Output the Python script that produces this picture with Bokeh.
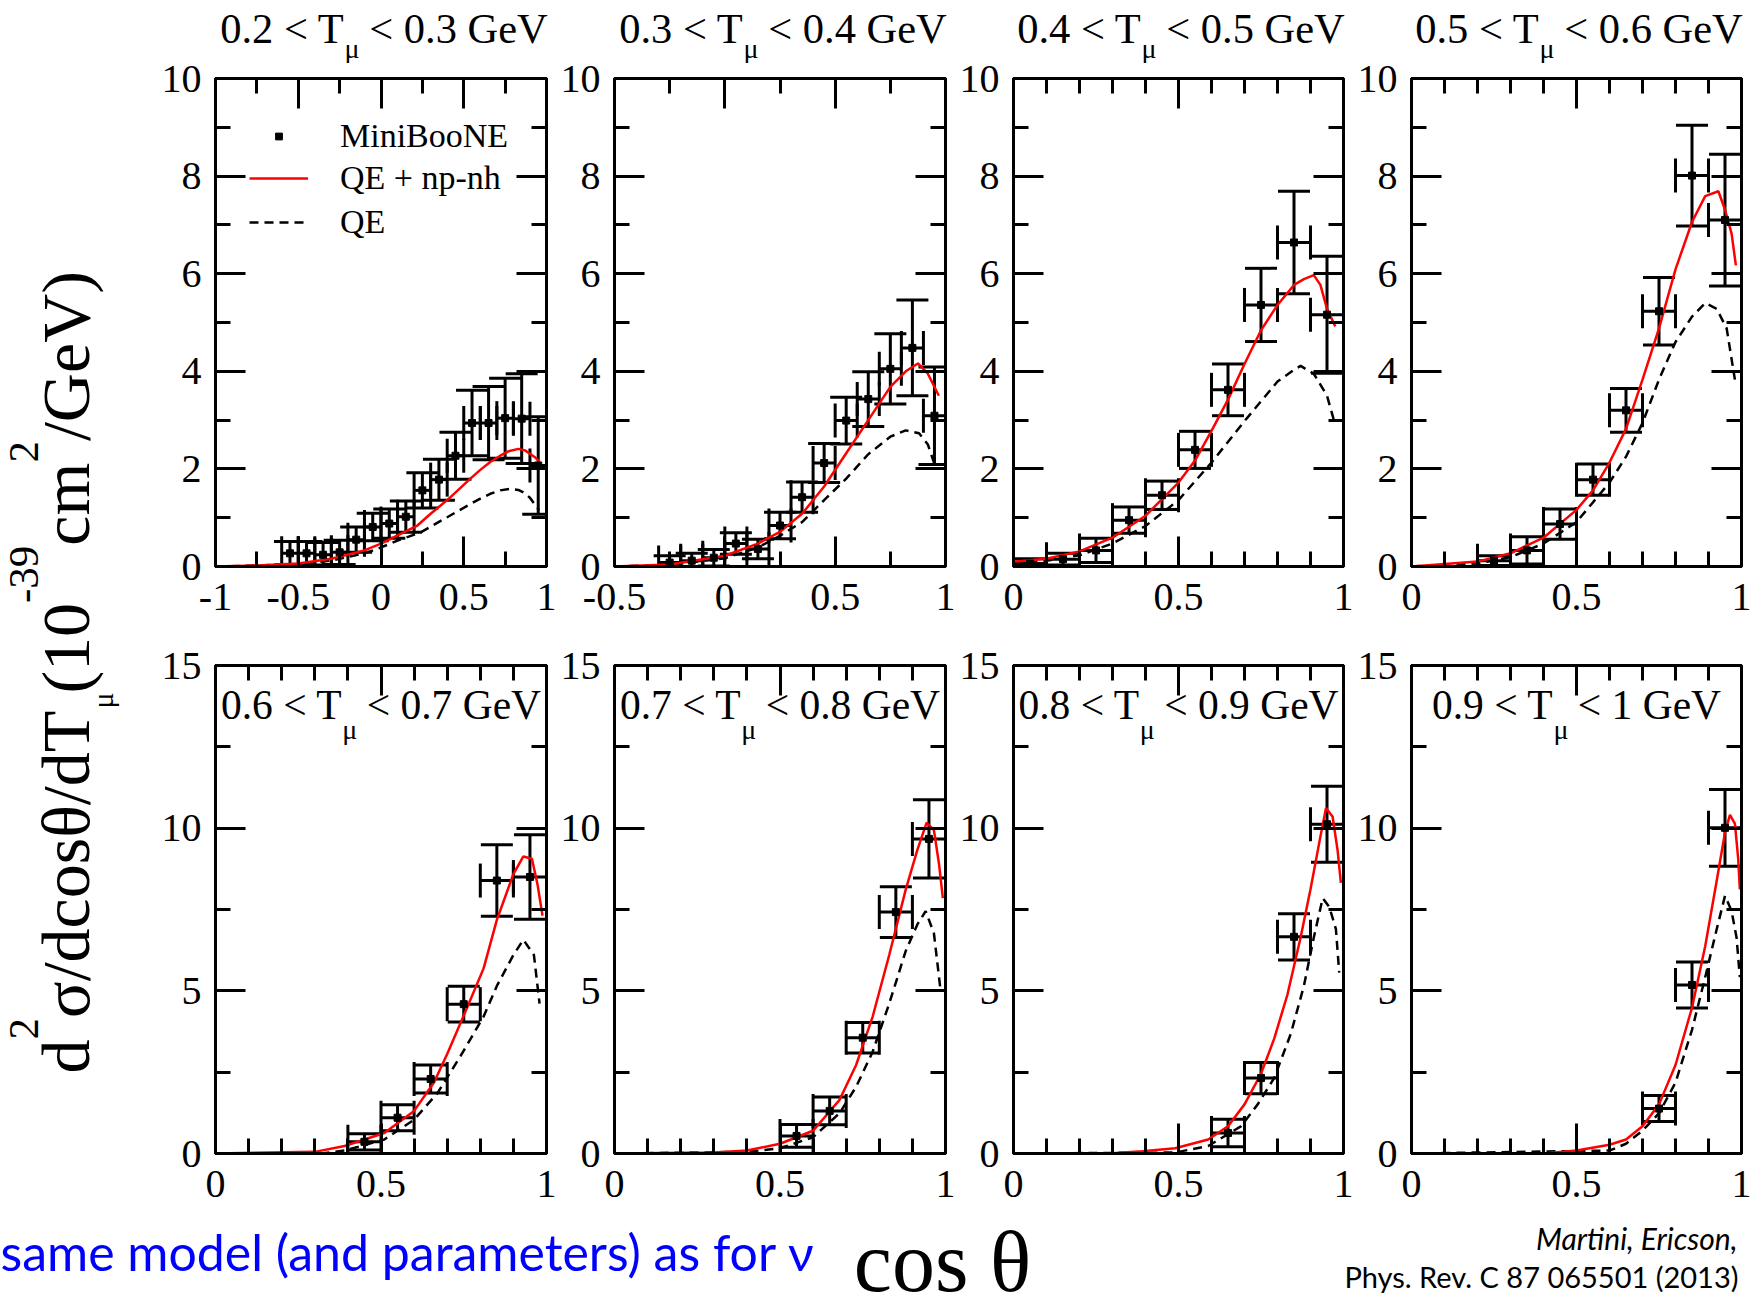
import math
from bokeh.plotting import figure
from bokeh.models import Range1d, FixedTicker, LinearAxis, Label, Legend, LegendItem
from bokeh.layouts import row, column
from bokeh.embed import file_html
from bokeh.resources import INLINE

# ---------------------------------------------------------------- data
# Muon kinetic energy bins (GeV), one panel per bin
t_lo = ["0.2", "0.3", "0.4", "0.5", "0.6", "0.7", "0.8", "0.9"]
t_hi = ["0.3", "0.4", "0.5", "0.6", "0.7", "0.8", "0.9", "1"]
bin_half = 0.05  # half width of the cos(theta) bins

# MiniBooNE: bin centres, d2sigma/dcos/dT (1e-39 cm2/GeV), errors
cos_1 = [-0.55, -0.45, -0.35, -0.25, -0.15, -0.05, 0.05, 0.15, 0.25, 0.35, 0.45, 0.55, 0.65, 0.75, 0.85, 0.95]
val_1 = [0.27, 0.27, 0.24, 0.29, 0.55, 0.81, 0.88, 1.02, 1.56, 1.78, 2.27, 2.94, 2.94, 3.04, 3.03, 2.07]
err_1 = [0.24, 0.24, 0.25, 0.25, 0.26, 0.28, 0.30, 0.32, 0.36, 0.42, 0.48, 0.67, 0.75, 0.82, 0.92, 1.00]

cos_2 = [-0.25, -0.15, -0.05, 0.05, 0.15, 0.25, 0.35, 0.45, 0.55, 0.65, 0.75, 0.85, 0.95]
val_2 = [0.08, 0.12, 0.18, 0.47, 0.36, 0.84, 1.42, 2.12, 2.99, 3.43, 4.05, 4.48, 3.09]
err_2 = [0.14, 0.15, 0.17, 0.22, 0.20, 0.27, 0.31, 0.40, 0.48, 0.56, 0.72, 0.98, 1.00]

cos_3 = [0.05, 0.15, 0.25, 0.35, 0.45, 0.55, 0.65, 0.75, 0.85, 0.95]
val_3 = [0.06, 0.15, 0.33, 0.95, 1.46, 2.39, 3.62, 5.36, 6.64, 5.16]
err_3 = [0.10, 0.12, 0.25, 0.27, 0.29, 0.38, 0.53, 0.75, 1.05, 1.20]

cos_4 = [0.25, 0.35, 0.45, 0.55, 0.65, 0.75, 0.85, 0.95]
val_4 = [0.12, 0.33, 0.87, 1.78, 3.20, 5.23, 8.01, 7.10]
err_4 = [0.10, 0.28, 0.31, 0.32, 0.45, 0.69, 1.03, 1.35]

cos_5 = [0.45, 0.55, 0.65, 0.75, 0.85, 0.95]
val_5 = [0.36, 1.10, 2.29, 4.59, 8.39, 8.50]
err_5 = [0.25, 0.40, 0.43, 0.55, 1.10, 1.30]

cos_6 = [0.55, 0.65, 0.75, 0.85, 0.95]
val_6 = [0.54, 1.31, 3.56, 7.42, 9.67]
err_6 = [0.35, 0.43, 0.47, 0.78, 1.20]

cos_7 = [0.65, 0.75, 0.85, 0.95]
val_7 = [0.63, 2.32, 6.66, 10.12]
err_7 = [0.42, 0.48, 0.71, 1.17]

cos_8 = [0.75, 0.85, 0.95]
val_8 = [1.38, 5.18, 10.01]
err_8 = [0.40, 0.71, 1.18]

# Model: QE + np-nh (red) and genuine QE (dashed)
np_x_1 = [-1.0, -0.75, -0.5, -0.3, -0.1, 0.0, 0.1, 0.22, 0.3, 0.42, 0.54, 0.6, 0.66, 0.72, 0.77, 0.83, 0.87, 0.9, 0.93, 0.96]
np_y_1 = [0.0, 0.02, 0.06, 0.16, 0.33, 0.47, 0.64, 0.84, 1.08, 1.42, 1.80, 1.98, 2.14, 2.27, 2.36, 2.41, 2.38, 2.31, 2.24, 2.14]
qe_x_1 = [-1.0, -0.75, -0.5, -0.3, -0.1, 0.0, 0.1, 0.24, 0.4, 0.54, 0.6, 0.66, 0.72, 0.78, 0.83, 0.86, 0.9, 0.94, 0.955]
qe_y_1 = [0.0, 0.02, 0.05, 0.12, 0.27, 0.39, 0.53, 0.70, 1.01, 1.28, 1.39, 1.49, 1.56, 1.59, 1.57, 1.52, 1.41, 1.22, 1.15]

np_x_2 = [-0.5, -0.25, 0.0, 0.15, 0.25, 0.35, 0.45, 0.55, 0.65, 0.75, 0.82, 0.875, 0.92, 0.97]
np_y_2 = [0.0, 0.04, 0.22, 0.47, 0.71, 1.08, 1.64, 2.32, 3.00, 3.68, 4.00, 4.16, 3.95, 3.50]
qe_x_2 = [-0.5, -0.25, 0.0, 0.15, 0.25, 0.35, 0.45, 0.55, 0.65, 0.75, 0.82, 0.88, 0.92, 0.95]
qe_y_2 = [0.0, 0.03, 0.17, 0.39, 0.63, 0.91, 1.36, 1.80, 2.30, 2.66, 2.79, 2.73, 2.50, 2.10]

np_x_3 = [0.0, 0.1, 0.2, 0.3, 0.4, 0.5, 0.55, 0.6, 0.65, 0.7, 0.75, 0.8, 0.85, 0.88, 0.91, 0.93, 0.95, 0.975]
np_y_3 = [0.10, 0.16, 0.31, 0.59, 1.04, 1.72, 2.17, 2.78, 3.42, 4.15, 4.84, 5.36, 5.77, 5.89, 5.97, 5.77, 5.28, 4.92]
qe_x_3 = [0.0, 0.1, 0.2, 0.3, 0.4, 0.5, 0.6, 0.7, 0.8, 0.85, 0.87, 0.91, 0.95, 0.97]
qe_y_3 = [0.06, 0.12, 0.23, 0.47, 0.83, 1.36, 2.13, 2.98, 3.79, 4.03, 4.11, 3.95, 3.50, 3.02]

np_x_4 = [0.0, 0.2, 0.3, 0.4, 0.5, 0.55, 0.6, 0.65, 0.7, 0.75, 0.8, 0.85, 0.89, 0.93, 0.95, 0.97, 0.983]
np_y_4 = [0.0, 0.10, 0.27, 0.59, 1.16, 1.56, 2.13, 2.82, 3.83, 4.88, 6.09, 7.06, 7.59, 7.69, 7.31, 6.82, 6.17]
qe_x_4 = [0.0, 0.2, 0.3, 0.4, 0.5, 0.6, 0.65, 0.7, 0.75, 0.8, 0.85, 0.89, 0.925, 0.955, 0.98]
qe_y_4 = [0.0, 0.06, 0.19, 0.47, 0.91, 1.72, 2.25, 2.94, 3.83, 4.60, 5.12, 5.40, 5.28, 4.88, 3.83]

np_x_5 = [0.0, 0.3, 0.39, 0.51, 0.6, 0.66, 0.7, 0.76, 0.81, 0.85, 0.9, 0.93, 0.956, 0.973, 0.988]
np_y_5 = [0.0, 0.05, 0.23, 0.63, 1.31, 2.18, 3.06, 4.48, 5.69, 7.18, 8.59, 9.13, 9.06, 8.26, 7.31]
qe_x_5 = [0.0, 0.32, 0.39, 0.51, 0.6, 0.67, 0.74, 0.81, 0.85, 0.9, 0.93, 0.962, 0.979]
qe_y_5 = [0.0, 0.0, 0.09, 0.43, 1.04, 1.85, 2.99, 4.21, 5.15, 6.10, 6.57, 6.10, 4.61]

np_x_6 = [0.0, 0.3, 0.4, 0.5, 0.6, 0.68, 0.73, 0.78, 0.83, 0.88, 0.915, 0.943, 0.965, 0.98, 0.992]
np_y_6 = [0.0, 0.03, 0.09, 0.30, 0.70, 1.65, 2.72, 4.21, 6.10, 8.12, 9.33, 10.17, 9.94, 8.93, 7.85]
qe_x_6 = [0.0, 0.4, 0.5, 0.6, 0.68, 0.73, 0.78, 0.83, 0.88, 0.915, 0.94, 0.965, 0.985]
qe_y_6 = [0.0, 0.05, 0.16, 0.50, 1.24, 2.05, 3.13, 4.61, 6.23, 7.04, 7.45, 6.77, 5.02]

np_x_7 = [0.0, 0.29, 0.39, 0.49, 0.59, 0.65, 0.7, 0.75, 0.79, 0.83, 0.87, 0.9, 0.93, 0.947, 0.967, 0.982, 0.992]
np_y_7 = [0.0, 0.0, 0.07, 0.16, 0.43, 0.84, 1.51, 2.45, 3.53, 4.88, 6.64, 8.12, 9.74, 10.62, 10.35, 9.33, 8.32]
qe_x_7 = [0.0, 0.49, 0.59, 0.69, 0.74, 0.79, 0.84, 0.88, 0.91, 0.937, 0.957, 0.977, 0.987]
qe_y_7 = [0.0, 0.03, 0.23, 0.84, 1.51, 2.32, 3.67, 5.15, 6.64, 7.85, 7.58, 6.90, 5.56]

np_x_8 = [0.0, 0.4, 0.5, 0.6, 0.65, 0.7, 0.75, 0.8, 0.85, 0.89, 0.925, 0.95, 0.965, 0.98, 0.99, 0.995]
np_y_8 = [0.0, 0.0, 0.09, 0.27, 0.43, 0.84, 1.51, 2.72, 4.48, 6.37, 8.39, 9.87, 10.41, 10.14, 9.06, 8.12]
qe_x_8 = [0.0, 0.6, 0.65, 0.7, 0.75, 0.8, 0.85, 0.89, 0.925, 0.95, 0.97, 0.985, 0.995]
qe_y_8 = [0.0, 0.09, 0.30, 0.70, 1.24, 2.18, 3.80, 5.42, 6.90, 7.92, 7.45, 6.64, 5.42]

# axis ranges and ticks
x_lim = [(-1, 1), (-0.5, 1), (0, 1), (0, 1), (0, 1), (0, 1), (0, 1), (0, 1)]
x_major = [[-1, -0.5, 0, 0.5, 1], [-0.5, 0, 0.5, 1]] + [[0, 0.5, 1]] * 6
x_minor = [[-0.75, -0.25, 0.25, 0.75], [-0.25, 0.25, 0.75]] + [[0.1, 0.2, 0.3, 0.4, 0.6, 0.7, 0.8, 0.9]] * 6
y_lim = [(0, 10), (0, 15)]
y_major = [[0, 2, 4, 6, 8, 10], [0, 5, 10, 15]]
y_minor = [[1, 3, 5, 7, 9], [2.5, 7.5, 12.5]]

# ---------------------------------------------------------------- layout / styling
SERIF = "Liberation Serif"
SANS = "Lato"
PAGE_W, PAGE_H = 1759, 1310
YLAB_W = 150          # strip holding the shared y label
TITLE_H = 63          # strip holding the top-row panel titles
FRAME_W, FRAME_H = 331, 488
COL_LB = [65, 57, 56, 56]
COL_RB = [11, 11, 11, 18]
ROW_TB = [15, 29]
ROW_BB = [70, 60]
BASE_FIX = 0.38  # alphabetic-baseline correction for Label text, in em

# Times advance widths (em) used to lay out composed labels
TIMES_W = {".": 0.25, " ": 0.25, "<": 0.564, "T": 0.611, "G": 0.722, "e": 0.444,
           "V": 0.722, "d": 0.5, "c": 0.444, "o": 0.5, "s": 0.389, "m": 0.778,
           "/": 0.278, "(": 0.333, ")": 0.333, "-": 0.333, "σ": 0.55, "θ": 0.5, "μ": 0.5}


def tw(s, size):
    return sum(TIMES_W.get(ch, 0.5) for ch in s) * size


def style_axis(ax, ticks, minor, show, standoff=10):
    ax.ticker = FixedTicker(ticks=ticks, minor_ticks=minor)
    ax.axis_line_color = "black"
    ax.axis_line_width = 3
    ax.major_tick_line_color = "black"
    ax.major_tick_line_width = 3
    ax.minor_tick_line_color = "black"
    ax.minor_tick_line_width = 3
    ax.major_tick_in = 30
    ax.major_tick_out = 0
    ax.minor_tick_in = 15
    ax.minor_tick_out = 0
    if show:
        ax.major_label_overrides = {t: "%g" % t for t in ticks}
        ax.major_label_text_font = SERIF
        ax.major_label_text_font_size = "40px"
        ax.major_label_text_color = "black"
        ax.major_label_standoff = standoff
    else:
        ax.major_label_overrides = {t: "" for t in ticks}
        ax.major_label_text_font_size = "1px"
        ax.major_label_standoff = 0


def add_title(p, xc, yc, lo, hi, drop, size=42.5, sub=28):
    """'lo < T_mu < hi GeV' with a lowered, smaller mu, centred on xc."""
    a = lo + " < T"
    b = "μ"
    c = "< " + hi + " GeV"
    wa, wb, ws = tw(a, size), tw(b, sub), tw(" ", size)
    w = wa + wb + ws + tw(c, size)
    left = -w / 2
    common = dict(x=xc, y=yc, text_font=SERIF, text_color="black",
                  text_align="left", text_baseline="alphabetic")
    p.add_layout(Label(text=a, x_offset=left, y_offset=BASE_FIX * size,
                       text_font_size=f"{size}px", **common))
    p.add_layout(Label(text=b, x_offset=left + wa, y_offset=-drop + BASE_FIX * sub,
                       text_font_size=f"{sub}px", **common))
    p.add_layout(Label(text=c, x_offset=left + wa + wb + ws, y_offset=BASE_FIX * size,
                       text_font_size=f"{size}px", **common))


def make_legend(items, loc, glyph_w, standoff):
    leg = Legend(items=items, location=loc)
    leg.label_text_font = SERIF
    leg.label_text_font_size = "34px"
    leg.label_text_color = "black"
    leg.glyph_width = glyph_w
    leg.glyph_height = 40
    leg.label_height = 40
    leg.spacing = 4
    leg.padding = 0
    leg.margin = 0
    leg.label_standoff = standoff
    leg.border_line_color = None
    leg.background_fill_alpha = 0
    return leg


def blank_canvas(w, h, x0, x1, y0, y1):
    f = figure(width=w, height=h, x_range=Range1d(x0, x1), y_range=Range1d(y0, y1),
               output_backend="svg", toolbar_location=None, min_border=0,
               x_axis_location=None, y_axis_location=None)
    f.grid.visible = False
    f.outline_line_color = None
    return f


cos_all = [cos_1, cos_2, cos_3, cos_4, cos_5, cos_6, cos_7, cos_8]
val_all = [val_1, val_2, val_3, val_4, val_5, val_6, val_7, val_8]
err_all = [err_1, err_2, err_3, err_4, err_5, err_6, err_7, err_8]
np_x_all = [np_x_1, np_x_2, np_x_3, np_x_4, np_x_5, np_x_6, np_x_7, np_x_8]
np_y_all = [np_y_1, np_y_2, np_y_3, np_y_4, np_y_5, np_y_6, np_y_7, np_y_8]
qe_x_all = [qe_x_1, qe_x_2, qe_x_3, qe_x_4, qe_x_5, qe_x_6, qe_x_7, qe_x_8]
qe_y_all = [qe_y_1, qe_y_2, qe_y_3, qe_y_4, qe_y_5, qe_y_6, qe_y_7, qe_y_8]

# left edges of the panel frames on the page
frame_left = []
cursor = YLAB_W
for c in range(4):
    frame_left.append(cursor + COL_LB[c])
    cursor += COL_LB[c] + FRAME_W + COL_RB[c]

panels = []
for i in range(8):
    r, c = divmod(i, 4)
    lb, rb, tb, bb = COL_LB[c], COL_RB[c], ROW_TB[r], ROW_BB[r]
    x0, x1 = x_lim[i]
    y0, y1 = y_lim[r]
    p = figure(width=lb + FRAME_W + rb, height=tb + FRAME_H + bb,
               x_range=Range1d(x0, x1), y_range=Range1d(y0, y1),
               output_backend="svg", toolbar_location=None,
               min_border_left=lb, min_border_right=rb,
               min_border_top=tb, min_border_bottom=bb)
    p.grid.visible = False
    p.outline_line_color = "black"
    p.outline_line_width = 3
    p.background_fill_color = "white"
    p.border_fill_color = "white"

    style_axis(p.xaxis[0], x_major[i], x_minor[i], True, standoff=17)
    style_axis(p.yaxis[0], y_major[r], y_minor[r], True, standoff=14)
    top_ax = LinearAxis()
    style_axis(top_ax, x_major[i], x_minor[i], False)
    p.add_layout(top_ax, "above")
    right_ax = LinearAxis()
    style_axis(right_ax, y_major[r], y_minor[r], False)
    p.add_layout(right_ax, "right")

    cs, vs, es = cos_all[i], val_all[i], err_all[i]
    y_lo = [v - e for v, e in zip(vs, es)]
    y_hi = [v + e for v, e in zip(vs, es)]
    x_lo = [x - bin_half for x in cs]
    x_hi = [x + bin_half for x in cs]

    # error bars: vertical (total uncertainty) and horizontal (bin width)
    p.segment(x0=cs, y0=y_lo, x1=cs, y1=y_hi, line_color="black", line_width=3)
    p.segment(x0=x_lo, y0=vs, x1=x_hi, y1=vs, line_color="black", line_width=3)
    p.scatter(x=cs + cs, y=y_lo + y_hi, marker="dash", size=32,
              line_color="black", line_width=3)
    p.scatter(x=x_lo + x_hi, y=vs + vs, marker="dash", size=34, angle=math.pi / 2,
              line_color="black", line_width=3)

    qe_r = p.line(qe_x_all[i], qe_y_all[i], line_color="black", line_width=2.5, line_dash="9 6")
    np_r = p.line(np_x_all[i], np_y_all[i], line_color="#ff0000", line_width=2.5)
    pts_r = p.scatter(cs, vs, marker="square", size=7, fill_color="black", line_color="black")

    if r == 1:
        # bottom-row titles sit inside the frame
        add_title(p, 0.5 * (x0 + x1), y1 - 55.0 / FRAME_H * (y1 - y0), t_lo[i], t_hi[i],
                  drop=20, size=41.5)

    if i == 0:
        # the marker entry gets a narrow glyph box so that its square stays small
        p.add_layout(make_legend([LegendItem(label="MiniBooNE", renderers=[pts_r])],
                                 (55, 410), 17, 53))
        p.add_layout(make_legend([LegendItem(label="QE + np-nh", renderers=[np_r]),
                                  LegendItem(label="QE", renderers=[qe_r])],
                                 (34, 324), 59, 32))
    panels.append(p)

# ---------------------------------------------------------------- top-row titles
titles = blank_canvas(PAGE_W - YLAB_W, TITLE_H, YLAB_W, PAGE_W, 0, TITLE_H)
for c in range(4):
    add_title(titles, frame_left[c] + FRAME_W / 2 + 3, TITLE_H - 44, t_lo[c], t_hi[c], drop=15)

# ---------------------------------------------------------------- shared y label
GRID_H = TITLE_H + sum(ROW_TB) + sum(ROW_BB) + 2 * FRAME_H
ylab = blank_canvas(YLAB_W, GRID_H, 0, YLAB_W, 0, GRID_H)

ylab_parts = [("d", "n"), ("2", "sup"), ("σ/dcosθ/dT", "n"), ("μ", "sub"), ("(10", "n"),
              ("-39", "sup"), ("cm", "n"), ("2", "sup"), ("/GeV)", "n")]
YL_SIZE = {"n": 68, "sup": 43, "sub": 30}
YL_RAISE = {"n": 0, "sup": 51, "sub": -22}
base_x, pos = 91, 140
for txt, kind in ylab_parts:
    f = YL_SIZE[kind]
    ylab.add_layout(Label(x=base_x - YL_RAISE[kind] - BASE_FIX * f, y=pos, text=txt,
                          angle=math.pi / 2, text_font=SERIF, text_font_size=f"{f}px",
                          text_color="black", text_align="left", text_baseline="alphabetic"))
    pos += tw(txt, f)

# ---------------------------------------------------------------- bottom strip
BOT_H = PAGE_H - GRID_H
bot = blank_canvas(PAGE_W, BOT_H, 0, PAGE_W, 0, BOT_H)


def bottom_text(x, y, text, font, size, align, color="black", style="normal"):
    bot.add_layout(Label(x=x, y=y + BASE_FIX * size, text=text, text_font=font,
                         text_font_size=f"{size}px", text_font_style=style,
                         text_color=color, text_align=align, text_baseline="alphabetic"))


bottom_text(0, 40, "same model (and parameters) as for ν", SANS, 50, "left", color="#0000ff")
bottom_text(942, 16, "cos θ", SERIF, 86, "center")
bottom_text(1737, 61, "Martini, Ericson,", SANS, 30, "right", style="italic")
bottom_text(1738, 23, "Phys. Rev. C 87 065501 (2013)", SANS, 29, "right")

grid = column(titles, row(*panels[:4]), row(*panels[4:]))
page = column(row(ylab, grid), bot)

open("out.html", "w").write(file_html(page, INLINE, title="CCQE double-differential cross section"))
